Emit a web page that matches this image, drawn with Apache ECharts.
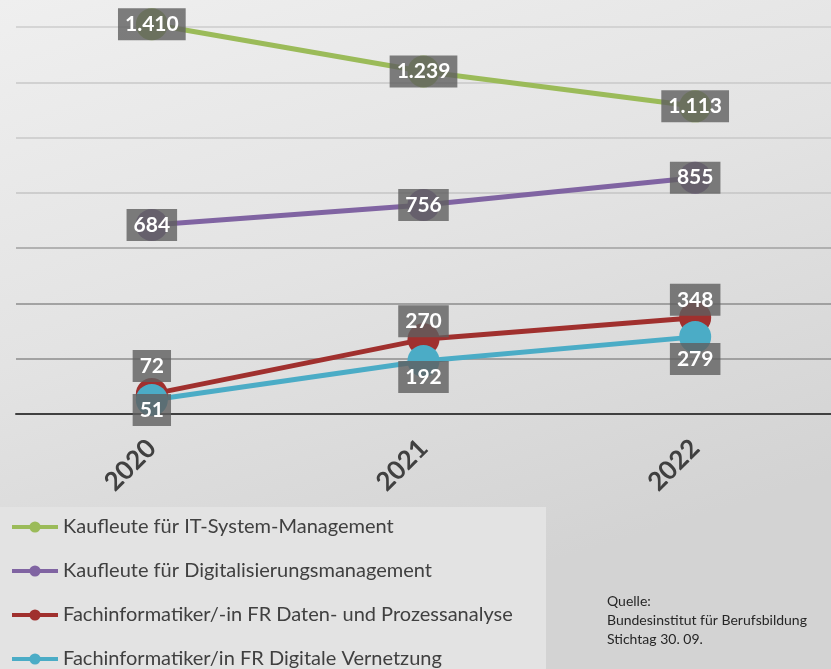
<!DOCTYPE html>
<html>
<head>
<meta charset="utf-8">
<script src="https://cdn.jsdelivr.net/npm/echarts@6/dist/echarts.min.js"></script>
<style>
html,body{margin:0;padding:0;}
#c{width:831px;height:669px;}
</style>
</head>
<body>
<div id="c"></div>
<script>
const years = ['2020', '2021', '2022'];
const seriesNames = [
  'Kaufleute für IT-System-Management',
  'Kaufleute für Digitalisierungsmanagement',
  'Fachinformatiker/-in FR Daten- und Prozessanalyse',
  'Fachinformatiker/in FR Digitale Vernetzung'
];
const itSystem = [1410, 1239, 1113];
const digitalisierung = [684, 756, 855];
const datenProzess = [72, 270, 348];
const vernetzung = [51, 192, 279];
const sourceLines = ['Quelle:', 'Bundesinstitut für Berufsbildung', 'Stichtag 30. 09.'];

const colors = ['#9bbb59', '#8064a2', '#a0302e', '#4bacc6'];
const allData = [itSystem, digitalisierung, datenProzess, vernetzung];
// label vertical offsets per series (relative to point centre)
const offsets = [[0,0,0],[0,0,0],[-28,-18,-18],[10,16,22]];

const fmt = v => v.toLocaleString('de-DE');

const chart = echarts.init(document.getElementById('c'));
const series = allData.map((d, i) => ({
  name: seriesNames[i],
  type: 'line',
  clip: false,
  data: d.map((v, j) => ({
    value: v,
    label: { offset: [0, offsets[i][j]] }
  })),
  symbol: 'circle',
  symbolSize: 32,
  lineStyle: { width: 5, color: colors[i] },
  itemStyle: { color: colors[i] },
  label: {
    show: true,
    position: 'inside',
    formatter: p => fmt(p.value),
    color: '#ffffff',
    fontFamily: 'Lato',
    fontWeight: 'bold',
    fontSize: 21,
    backgroundColor: 'rgba(95,95,95,0.8)',
    padding: [6, 7, 5, 7]
  },
  emphasis: { disabled: true },
  animation: false
}));

chart.setOption({
  animation: false,
  backgroundColor: {
    type: 'linear', x: 0, y: 0, x2: 0.25, y2: 1,
    colorStops: [
      { offset: 0, color: '#efefef' },
      { offset: 0.5, color: '#e3e3e3' },
      { offset: 1, color: '#d3d3d3' }
    ]
  },
  graphic: [
    {
      type: 'rect', left: 0, top: 507, z: -1,
      shape: { width: 546, height: 162 },
      style: { fill: '#e3e3e3' }
    },
    {
      type: 'text', left: 607, top: 592,
      style: {
        text: sourceLines.join('\n'),
        font: '14px Lato',
        fill: '#262626',
        lineHeight: 19
      }
    }
  ],
  grid: { left: 16, right: -1, top: 27, bottom: 255 },
  legend: {
    orient: 'vertical',
    left: 10,
    top: 517,
    height: 160,
    padding: 0,
    itemGap: 24,
    itemWidth: 46,
    itemHeight: 14,
    lineStyle: { width: 4 },
    data: seriesNames,
    textStyle: { fontFamily: 'Lato', fontSize: 20, color: '#404040', lineHeight: 20 }
  },
  xAxis: {
    type: 'category',
    data: years,
    boundaryGap: true,
    axisLine: { lineStyle: { color: '#404040', width: 2 } },
    axisTick: { show: false },
    axisLabel: {
      rotate: 45,
      margin: 30,
      fontFamily: 'Lato',
      fontWeight: 'bold',
      fontSize: 26,
      color: '#404040'
    }
  },
  yAxis: {
    type: 'value',
    min: 0,
    max: 1400,
    interval: 200,
    axisLabel: { show: false },
    axisLine: { show: false },
    axisTick: { show: false },
    splitLine: {
      lineStyle: {
        width: 1.5,
        color: ['#404040', '#8c8c8c', '#8c8c8c', '#a0a0a0', '#c4c4c4', '#c8c8c8', '#c8c8c8', '#cccccc']
      }
    }
  },
  series: series
});
</script>
</body>
</html>
